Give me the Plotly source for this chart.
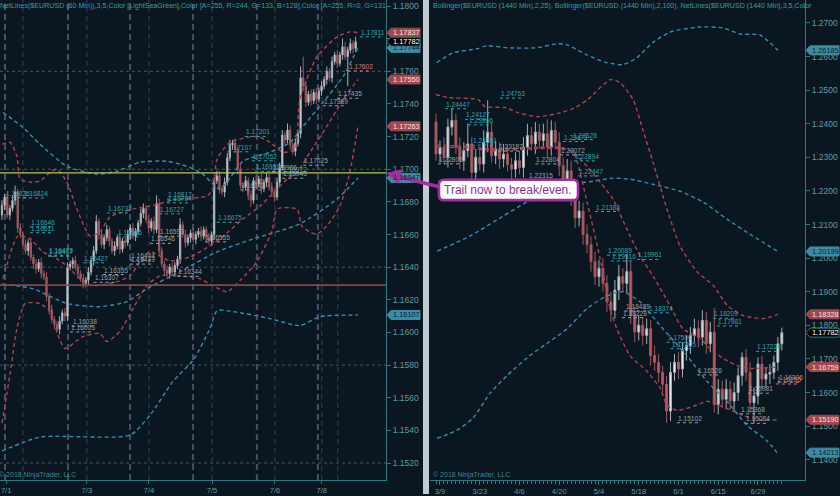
import plotly.graph_objects as go

# ================= DATA =================
# ---- Left panel: $EURUSD (60 Min) bars, index 0..135 ----
h_first_open = 1.1672
h_close = [
    1.1678, 1.1683, 1.1672, 1.1676, 1.1681, 1.1686, 1.1664, 1.1660, 1.1654, 1.1650,
    1.1655, 1.1646, 1.1642, 1.1639, 1.1643, 1.1636, 1.1634, 1.1622, 1.1614, 1.1608,
    1.1605, 1.1602, 1.1607, 1.1612, 1.1610, 1.1640, 1.1642, 1.1644, 1.1640, 1.1636,
    1.1633, 1.1630, 1.1632, 1.1637, 1.1644, 1.1650, 1.1668, 1.1660, 1.1654, 1.1658,
    1.1663, 1.1656, 1.1650, 1.1653, 1.1658, 1.1651, 1.1656, 1.1655, 1.1660, 1.1664,
    1.1659, 1.1662, 1.1667, 1.1673, 1.1676, 1.1669, 1.1664, 1.1668, 1.1663, 1.1679,
    1.1650, 1.1642, 1.1638, 1.1636, 1.1640, 1.1637, 1.1641, 1.1645, 1.1666, 1.1660,
    1.1655, 1.1658, 1.1661, 1.1657, 1.1660, 1.1662, 1.1659, 1.1663, 1.1658, 1.1656,
    1.1660, 1.1693, 1.1696, 1.1688, 1.1686, 1.1692, 1.1707, 1.1715, 1.1716, 1.1712,
    1.1700, 1.1690, 1.1689, 1.1693, 1.1684, 1.1681, 1.1693, 1.1691, 1.1694, 1.1688,
    1.1692, 1.1695, 1.1689, 1.1686, 1.1683, 1.1692, 1.1701, 1.1721, 1.1718, 1.1724,
    1.1715, 1.1711, 1.1716, 1.1722, 1.1756, 1.1751, 1.1741, 1.1746, 1.1742, 1.1747,
    1.1743, 1.1748, 1.1751, 1.1755, 1.1760, 1.1756, 1.1766, 1.1770, 1.1765, 1.1770,
    1.1775, 1.1769, 1.1773, 1.1777, 1.1774, 1.17782]
# wick lengths in 0.0001
h_wick_up = [
    3, 2, 3, 2, 3, 4, 2, 3, 2, 3, 2, 3, 2, 3, 2, 3, 2, 3, 2, 3,
    2, 2, 3, 2, 3, 3, 2, 2, 3, 2, 2, 3, 2, 3, 2, 3, 4, 2, 3, 2,
    3, 2, 2, 3, 2, 3, 2, 2, 3, 2, 3, 2, 2, 3, 3, 2, 3, 2, 3, 5,
    3, 2, 2, 3, 2, 3, 2, 2, 4, 2, 3, 2, 2, 3, 2, 2, 3, 2, 2, 3,
    2, 2, 3, 3, 2, 3, 3, 3, 2, 3, 2, 3, 2, 3, 2, 3, 2, 3, 2, 3,
    2, 3, 2, 3, 2, 3, 3, 3, 2, 4, 3, 2, 3, 2, 7, 13, 3, 2, 3, 2,
    3, 2, 3, 2, 3, 2, 3, 2, 3, 2, 5, 3, 2, 3, 2, 3]
h_wick_dn = [
    3, 3, 2, 3, 2, 3, 3, 2, 3, 2, 3, 2, 3, 3, 2, 3, 2, 3, 3, 2,
    3, 2, 3, 2, 3, 3, 2, 3, 2, 3, 2, 3, 2, 3, 2, 3, 2, 3, 2, 3,
    2, 3, 2, 3, 2, 3, 2, 3, 2, 3, 2, 3, 2, 2, 3, 2, 3, 2, 3, 2,
    3, 2, 3, 2, 3, 2, 3, 2, 3, 2, 3, 2, 3, 2, 3, 2, 3, 2, 3, 2,
    3, 3, 2, 3, 2, 3, 2, 2, 3, 2, 3, 2, 3, 2, 3, 4, 2, 3, 2, 3,
    2, 3, 2, 3, 3, 2, 3, 2, 3, 2, 3, 2, 3, 2, 3, 2, 3, 2, 3, 2,
    3, 2, 3, 2, 3, 2, 3, 2, 3, 2, 3, 2, 18, 2, 3, 2]
h_date_ticks = [1.6, 32.4, 56.1, 80.2, 104.2, 122.1]
h_date_text = ['7/1', '7/3', '7/4', '7/5', '7/6', '7/8']
h_session_major = [1.15, 25.2, 48.9, 72.9, 97.3, 120.6]
h_session_minor = [8, 32.4, 56.1, 80.2, 104.2, 122.1, 128.2]
h_grid_prices = [1.1760, 1.1700, 1.1640, 1.1580, 1.1520]
h_trail_level = 1.16978
h_stop_level = 1.1629

# indicator lines (bar index, price)
h_red_up_x = [0, 3.1, 5.7, 6.9, 10.7, 14.5, 18.3, 21, 24.8, 28.6, 33.6, 37.4, 41.2, 50, 56.5,
              66.8, 78.2, 80.5, 82.1, 87, 97.3, 102.3, 107.3, 111.8, 113.7, 120.2, 127.9, 132.8, 135.9]
h_red_up_y = [1.17153, 1.17165, 1.17079, 1.16939, 1.16921, 1.16927, 1.16982, 1.17000, 1.16921,
              1.16756, 1.16591, 1.16616, 1.16707, 1.16756, 1.16774, 1.16817, 1.16835, 1.16878,
              1.17061, 1.17165, 1.17201, 1.17165, 1.17104, 1.17122, 1.17427, 1.17689, 1.17811,
              1.17842, 1.17837]
h_red_lo_x = [0.4, 6.1, 10.7, 15.6, 21, 24.8, 30.9, 34.7, 43.9, 48.9, 52.7, 56.5, 64.1, 71.8,
              77.5, 83.2, 92, 98.5, 102.3, 108.8, 112.6, 117.6, 124, 130.2, 135.9]
h_red_lo_y = [1.16329, 1.16591, 1.16573, 1.16494, 1.16451, 1.16408, 1.16311, 1.16286, 1.16311,
              1.16347, 1.16433, 1.16494, 1.16439, 1.16463, 1.16512, 1.16573, 1.16695, 1.16774,
              1.16835, 1.16939, 1.16982, 1.17104, 1.17262, 1.17427, 1.17550]
h_red_3_x = [0, 3.1, 5.7, 8.8, 14.5, 18.3, 21.4, 24, 30.9, 37.4, 40.1, 45, 50, 55.3, 60.3, 67.9,
             75.6, 80.5, 85.9, 90.8, 97.3, 103.1, 105, 112.6, 114.5, 117.6, 120.2, 124, 129,
             132.8, 135.9]
h_red_3_y = [1.15444, 1.15749, 1.16024, 1.16177, 1.16177, 1.16128, 1.15981, 1.15902, 1.15975,
             1.15994, 1.15945, 1.16006, 1.16146, 1.16286, 1.16347, 1.16347, 1.16329, 1.16286,
             1.16250, 1.16317, 1.16433, 1.16622, 1.16756, 1.16756, 1.16652, 1.16616, 1.16603,
             1.16652, 1.16774, 1.16982, 1.17263]
h_blue_up_x = [0.4, 8, 14.5, 24.8, 36.3, 43.9, 52.7, 63, 70.6, 76.7, 83.2, 92, 102.3, 110, 114.9,
               122.5, 130.2, 135.9]
h_blue_up_y = [1.17348, 1.17256, 1.17153, 1.17018, 1.16970, 1.16988, 1.17043, 1.17049, 1.17018,
               1.16970, 1.16878, 1.17049, 1.17104, 1.17165, 1.17262, 1.17409, 1.17567, 1.17744]
h_blue_mid_x = [0, 11.8, 24.8, 37.4, 47.7, 55.3, 67.9, 82.1, 95.8, 113.7, 127.9, 135.9]
h_blue_mid_y = [1.16298, 1.16268, 1.16177, 1.16158, 1.16189, 1.16268, 1.16372, 1.16494, 1.16573,
                1.16665, 1.16817, 1.16947]
h_blue_lo_x = [0, 14.5, 48.9, 56.5, 65.3, 72.9, 79.4, 82.1, 88.2, 102.3, 113.7, 121.4, 135.9]
h_blue_lo_y = [1.15274, 1.15359, 1.15371, 1.15493, 1.15701, 1.15829, 1.16024, 1.16134, 1.16128,
               1.16085, 1.16042, 1.16097, 1.16107]

# NetLines price labels: (text, bar index, kind) ; price = text value
h_labels = [
    ("1.17811", 136.6, 't'), ("1.17602", 132.0, 'r'), ("1.17435", 128.0, 'g'),
    ("1.17389", 122.5, 'g'), ("1.17201", 92.7, 't'), ("1.17107", 86.0, 't'),
    ("1.17052", 95.4, 't'), ("1.16988", 96.6, 't'), ("1.16972", 107.0, 't'),
    ("1.17025", 115.0, 'g'), ("1.16986", 103.0, 'g'), ("1.16945", 107.0, 'g'),
    ("1.16873", 91.0, 'g'), ("1.16817", 63.0, 't'), ("1.16794", 63.0, 't'),
    ("1.16727", 60.0, 't'), ("1.16732", 40.0, 't'), ("1.16675", 82.0, 't'),
    ("1.16585", 44.0, 't'), ("1.16590", 60.0, 'g'), ("1.16546", 56.5, 'g'),
    ("1.16555", 77.5, 'g'), ("1.16444", 48.9, 'g'), ("1.16419", 48.9, 'g'),
    ("1.16427", 31.0, 't'), ("1.16355", 38.5, 'g'), ("1.16344", 67.0, 'g'),
    ("1.16307", 35.0, 'g'), ("1.16038", 26.7, 'g'), ("1.16003", 26.0, 'g'),
    ("1.16646", 10.7, 't'), ("1.16611", 10.7, 't'), ("1.16473", 17.6, 't'),
    ("1.16467", 17.6, 't'), ("1.16826", 1.3, 't'), ("1.16824", 8.0, 't')]
h_flags = [("1.17744", 'b'), ("1.17837", 'r'), ("1.17782", 'k'), ("1.17550", 'r'),
           ("1.17263", 'r'), ("1.16947", 'b'), ("1.16107", 'b')]

# ---- Right panel: $EURUSD (1440 Min) bars, index 0..87 ----
d_first_open = 1.2405
d_close = [
    1.2310, 1.2330, 1.2300, 1.2390, 1.2410, 1.2330, 1.2290, 1.2320, 1.2340, 1.2255,
    1.2300, 1.2280, 1.2345, 1.2375, 1.2305, 1.2325, 1.2295, 1.2310, 1.2278, 1.2265,
    1.2290, 1.2270, 1.2330, 1.2365, 1.2340, 1.2375, 1.2350, 1.2370, 1.2330, 1.2380,
    1.2345, 1.2275, 1.2235, 1.2260, 1.2180, 1.2120, 1.2140, 1.2070, 1.2040, 1.1990,
    1.1945, 1.1970, 1.1925, 1.1870, 1.1845, 1.1905, 1.1945, 1.1925, 1.1960, 1.1830,
    1.1780, 1.1800, 1.1770, 1.1790, 1.1710, 1.1690, 1.1660, 1.1625, 1.1545, 1.1660,
    1.1690, 1.1670, 1.1725, 1.1740, 1.1770, 1.1790, 1.1765, 1.1815, 1.1745, 1.1780,
    1.1565, 1.1610, 1.1580, 1.1610, 1.1575, 1.1600, 1.1650, 1.1705, 1.1660, 1.1570,
    1.1590, 1.1685, 1.1640, 1.1655, 1.1660, 1.1690, 1.1745, 1.17782]
d_wick_up = [
    25, 20, 30, 25, 35, 20, 30, 25, 60, 20, 25, 30, 35, 95, 30, 25, 20, 30, 25, 20,
    25, 30, 30, 35, 25, 30, 25, 30, 43, 30, 25, 30, 25, 35, 30, 25, 30, 25, 30, 25,
    30, 25, 30, 25, 30, 30, 35, 25, 49, 30, 25, 30, 25, 30, 25, 30, 25, 20, 25, 30,
    25, 30, 25, 30, 25, 30, 25, 30, 25, 30, 72, 30, 25, 30, 25, 30, 25, 15, 25, 30,
    25, 20, 25, 20, 25, 20, 20, 15]
d_wick_dn = [
    20, 25, 20, 30, 25, 20, 25, 30, 20, 25, 30, 20, 25, 30, 20, 25, 30, 25, 20, 30,
    25, 20, 30, 25, 20, 30, 25, 20, 30, 25, 20, 30, 25, 30, 25, 30, 25, 30, 25, 30,
    25, 30, 25, 30, 35, 25, 30, 25, 30, 25, 30, 25, 30, 25, 30, 25, 30, 25, 35, 30,
    25, 30, 25, 30, 25, 20, 30, 25, 30, 25, 25, 30, 25, 30, 25, 30, 25, 30, 25, 30,
    62, 25, 30, 25, 30, 20, 25, 20]
d_tick_idx = [1, 11, 21, 31, 41, 51, 61, 71, 81]
d_tick_text = ['3/9', '3/23', '4/6', '4/20', '5/4', '5/18', '6/1', '6/15', '6/29']

d_bb100_up_x = [0.2, 4.3, 10.3, 12.8, 17.9, 25.4, 30.4, 32.9, 37.9, 42.9, 47, 50.5, 54.5, 58.9,
                66.4, 72.2, 76.5, 81.5, 86]
d_bb100_up_y = [1.2582, 1.2611, 1.2623, 1.2632, 1.2626, 1.2626, 1.2638, 1.2635, 1.2605, 1.2582,
                1.2576, 1.2596, 1.2641, 1.2673, 1.2688, 1.2685, 1.2667, 1.2664, 1.26185]
d_bb100_mid_x = [0.3, 8.6, 16.9, 22.9, 29.4, 34.5, 39.5, 44.5, 48.8, 54.6, 61.4, 67.2, 73.2, 79.7, 86]
d_bb100_mid_y = [1.2021, 1.2066, 1.2125, 1.2167, 1.2196, 1.2220, 1.2229, 1.2238, 1.2235, 1.2220,
                 1.2199, 1.2167, 1.2116, 1.2066, 1.20199]
d_bb100_lo_x = [0.3, 5.3, 9.3, 13.6, 17.9, 23.6, 27.9, 33, 38, 43, 47, 51.3, 56.4, 63.1, 68.2,
                73.2, 78.2, 83.3, 85.8]
d_bb100_lo_y = [1.1464, 1.1488, 1.1524, 1.1598, 1.1651, 1.1710, 1.1746, 1.1790, 1.1850, 1.1888,
                1.1900, 1.1870, 1.1799, 1.1710, 1.1633, 1.1574, 1.1503, 1.1456, 1.14213]
d_bb25_up_x = [0, 3, 10.6, 12.3, 17.4, 20.6, 25.7, 31.4, 35, 38.2, 43.8, 46.3, 49.6, 52, 54.6,
               58.1, 61.4, 65.7, 69.8, 73.3, 77.3, 82.3, 86]
d_bb25_up_y = [1.2487, 1.2478, 1.2472, 1.2451, 1.2448, 1.2433, 1.2421, 1.2433, 1.2448, 1.2472,
               1.2531, 1.2522, 1.2472, 1.2383, 1.2285, 1.2146, 1.2036, 1.1959, 1.1918, 1.1859,
               1.1829, 1.1820, 1.18328]
d_bb25_mid_x = [0, 7.3, 14.8, 25.7, 31.4, 34.5, 38, 41.3, 44.5, 48, 51.3, 54.6, 58.9, 62.1, 66.4,
                68.9, 72.2, 75.7, 79, 83.3, 85.8]
d_bb25_mid_y = [1.2336, 1.2333, 1.2324, 1.2330, 1.2330, 1.2315, 1.2273, 1.2226, 1.2176, 1.2087,
                1.2007, 1.1947, 1.1858, 1.1790, 1.1761, 1.1731, 1.1702, 1.1681, 1.1672, 1.1674,
                1.16759]
d_bb25_lo_x = [0, 7.3, 14.8, 25.7, 31.4, 34.5, 38, 41.3, 43.8, 45.5, 48.8, 53.1, 56.4, 58.1,
               60.6, 64.7, 68.2, 69.7, 73.2, 77.2, 81.5, 86]
d_bb25_lo_y = [1.2330, 1.2328, 1.2320, 1.2326, 1.2326, 1.2315, 1.2167, 1.1998, 1.1850, 1.1790,
               1.1710, 1.1663, 1.1613, 1.1562, 1.1547, 1.1559, 1.1574, 1.1568, 1.1553, 1.1532,
               1.1518, 1.15190]

d_labels = [
    ("1.24763", 16.1, 't'), ("1.24447", 2.3, 't'), ("1.24127", 7.3, 't'),
    ("1.23966", 8.0, 't'), ("1.23361", 9.0, 't'), ("1.23471", 31.9, 't'),
    ("1.23528", 34.2, 't'), ("1.22894", 34.7, 't'), ("1.22447", 35.7, 't'),
    ("1.21388", 40.0, 't'), ("1.20089", 43.0, 't'), ("1.19961", 50.6, 't'),
    ("1.19916", 44.0, 't'), ("1.18429", 47.5, 'g'), ("1.18374", 53.3, 't'),
    ("1.18228", 46.8, 'g'), ("1.17500", 58.0, 't'), ("1.17305", 59.0, 't'),
    ("1.16526", 65.7, 'g'), ("1.18209", 69.7, 't'), ("1.17981", 70.7, 't'),
    ("1.17226", 80.5, 't'), ("1.15981", 78.5, 'g'), ("1.15368", 76.5, 'g'),
    ("1.15084", 77.7, 'g'), ("1.15102", 60.6, 'g'), ("1.16306", 86.0, 'r'),
    ("1.16255", 85.5, 'r'), ("1.22806", 0.5, 'g'), ("1.22804", 25.0, 'g'),
    ("1.23072", 31.2, 'g'), ("1.23187", 15.6, 'g'), ("1.22315", 23.1, 'g')]
d_flags = [("1.26185", 'b'), ("1.20199", 'b'), ("1.18328", 'r'), ("1.17782", 'k'),
           ("1.16759", 'r'), ("1.15190", 'r'), ("1.14213", 'b')]

left_legend = ("NetLines($EURUSD (60 Min)),3,5,Color [LightSeaGreen],Color [A=255, R=244, "
               "G=133, B=128],Color [A=255, R=0, G=131")
right_legend = ("Bollinger($EURUSD (1440 Min),2,25), Bollinger($EURUSD (1440 Min),2,100), "
                "NetLines($EURUSD (1440 Min),3,5,Color")
copyright_text = "© 2018 NinjaTrader, LLC"
callout_text = "Trail now to break/even."

# ================= STYLE / GEOMETRY =================
BG = '#0a1620'
AX = '#2b7c80'
TK = '#5b9ea4'
RED = '#b0444d'
BLUE = '#3a8db0'
LBL = {'t': '#2fa6ad', 'g': '#9aa2aa', 'r': '#d9817c'}
FLAG = {'r': ('#a3474f', '#f3e2e2', '#a3474f'),
        'b': ('#3d8ca6', '#08202a', '#3d8ca6'),
        'k': ('#000000', '#ffffff', '#2b7c80')}
PURPLE = '#a0309e'
FONT = 'Liberation Sans, Arial, sans-serif'

W, H, MB = 840, 496, 14
PH = H - MB
L_DOM = [0, 386 / W]
R_DOM = [430 / W, 805 / W]
L_XR = [-0.76, 146.6]
R_XR = [-1.51, 92.83]
L_YR = [1.15096, 1.18037]
R_YR = [1.13398, 1.27682]


def px(x):
    return x / W


def py(y):
    return (PH - y) / PH


def ohlc(first_open, closes, wu, wd):
    opens = [first_open] + closes[:-1]
    highs = [max(o, c) + u * 1e-4 for o, c, u in zip(opens, closes, wu)]
    lows = [min(o, c) - d * 1e-4 for o, c, d in zip(opens, closes, wd)]
    return opens, highs, lows


fig = go.Figure()

for (fo, cl, wu, wd, xa, ya) in [(h_first_open, h_close, h_wick_up, h_wick_dn, 'x', 'y'),
                                 (d_first_open, d_close, d_wick_up, d_wick_dn, 'x2', 'y2')]:
    o, hi, lo = ohlc(fo, cl, wu, wd)
    fig.add_trace(go.Candlestick(
        x=list(range(len(cl))), open=o, high=hi, low=lo, close=cl, xaxis=xa, yaxis=ya,
        increasing=dict(line=dict(color='#a7afb5', width=1), fillcolor='#e4e9ec'),
        decreasing=dict(line=dict(color='#9a5a62', width=1), fillcolor='#c9525c'),
        whiskerwidth=0, showlegend=False, hoverinfo='skip'))

lines = [
    (h_blue_lo_x, h_blue_lo_y, BLUE, 'x', 'y'),
    (h_blue_mid_x, h_blue_mid_y, BLUE, 'x', 'y'),
    (h_blue_up_x, h_blue_up_y, BLUE, 'x', 'y'),
    (h_red_3_x, h_red_3_y, RED, 'x', 'y'),
    (h_red_lo_x, h_red_lo_y, RED, 'x', 'y'),
    (h_red_up_x, h_red_up_y, RED, 'x', 'y'),
    (d_bb100_up_x, d_bb100_up_y, BLUE, 'x2', 'y2'),
    (d_bb100_mid_x, d_bb100_mid_y, BLUE, 'x2', 'y2'),
    (d_bb100_lo_x, d_bb100_lo_y, BLUE, 'x2', 'y2'),
    (d_bb25_up_x, d_bb25_up_y, RED, 'x2', 'y2'),
    (d_bb25_mid_x, d_bb25_mid_y, RED, 'x2', 'y2'),
    (d_bb25_lo_x, d_bb25_lo_y, RED, 'x2', 'y2'),
]
for xs, ys, col, xa, ya in lines:
    fig.add_trace(go.Scatter(x=xs, y=ys, mode='lines', xaxis=xa, yaxis=ya,
                             line=dict(color=col, width=1.4, dash='4px,3px', shape='spline',
                                       smoothing=0.6),
                             showlegend=False, hoverinfo='skip'))

shapes = []
annotations = []

# left panel grid / session lines
for p in h_grid_prices:
    shapes.append(dict(type='line', xref='x domain', yref='y', x0=0, x1=1, y0=p, y1=p,
                       line=dict(color='#4f5668', width=1, dash='dot'), layer='below'))
for s in h_session_major:
    shapes.append(dict(type='line', xref='x', yref='y domain', x0=s, x1=s, y0=0, y1=1,
                       line=dict(color='#4a4f68', width=2, dash='6px,4px'), layer='below'))
for s in h_session_minor:
    shapes.append(dict(type='line', xref='x', yref='y domain', x0=s, x1=s, y0=0, y1=1,
                       line=dict(color='#3a4256', width=1, dash='5px,4px'), layer='below'))
shapes.append(dict(type='line', xref='x domain', yref='y', x0=0, x1=1, y0=h_trail_level,
                   y1=h_trail_level, line=dict(color='#b9c64e', width=1.2)))
shapes.append(dict(type='line', xref='x domain', yref='y', x0=0, x1=1, y0=h_stop_level,
                   y1=h_stop_level, line=dict(color='#8f4545', width=1.6)))

# NetLines labels
for labels, xa, ya, ulen in [(h_labels, 'x', 'y', 8.4), (d_labels, 'x2', 'y2', 5.5)]:
    for txt, xi, kind in labels:
        p = float(txt)
        col = LBL[kind]
        shapes.append(dict(type='line', xref=xa, yref=ya, x0=xi, x1=xi + ulen, y0=p, y1=p,
                           line=dict(color=col, width=1, dash='dot')))
        annotations.append(dict(x=xi, y=p, xref=xa, yref=ya, text=txt, showarrow=False,
                                xanchor='left', yanchor='bottom', borderpad=0,
                                font=dict(family=FONT, size=6.6, color=col)))

# price flags on axes
for flags, ya, tip, yr in [(h_flags, 'y', 387, L_YR), (d_flags, 'y2', 806, R_YR)]:
    hd = 9.0 * (yr[1] - yr[0]) / PH
    for txt, kind in flags:
        p = float(txt)
        bg, fg, bd = FLAG[kind]
        x0, x1, x2 = px(tip), px(tip + 4), px(tip + 33)
        path = (f"M {x0},{p} L {x1},{p + hd / 2} L {x2},{p + hd / 2} "
                f"L {x2},{p - hd / 2} L {x1},{p - hd / 2} Z")
        shapes.append(dict(type='path', path=path, xref='paper', yref=ya, fillcolor=bg,
                           line=dict(color=bd, width=1), layer='above'))
        annotations.append(dict(x=px(tip + 19), y=p, xref='paper', yref=ya, text=txt,
                                showarrow=False, xanchor='center', yanchor='middle',
                                font=dict(family=FONT, size=7.4, color=fg)))

# separator between panels
shapes.append(dict(type='rect', xref='paper', yref='paper', x0=px(423), x1=px(429),
                   y0=py(H), y1=py(0), fillcolor='#c3cbd2', line=dict(width=0)))


# callout box + arrow
def rrect(x0, y0, x1, y1, r):
    pts = [("M", x0 + r, y0), ("L", x1 - r, y0), ("Q", x1, y0, x1, y0 + r), ("L", x1, y1 - r),
           ("Q", x1, y1, x1 - r, y1), ("L", x0 + r, y1), ("Q", x0, y1, x0, y1 - r),
           ("L", x0, y0 + r), ("Q", x0, y0, x0 + r, y0)]
    out = []
    for seg in pts:
        cmd = seg[0]
        coords = seg[1:]
        s = " ".join(f"{px(coords[k])},{py(coords[k + 1])}" for k in range(0, len(coords), 2))
        out.append(f"{cmd} {s}")
    return " ".join(out) + " Z"


shapes.append(dict(type='line', xref='paper', yref='paper', x0=px(441), y0=py(188),
                   x1=px(399), y1=py(177.5), line=dict(color=PURPLE, width=3.5)))
shapes.append(dict(type='path', xref='paper', yref='paper',
                   path=f"M {px(387)},{py(174)} L {px(401.5)},{py(170.5)} L {px(398.5)},{py(184)} Z",
                   fillcolor=PURPLE, line=dict(color=PURPLE, width=1)))
shapes.append(dict(type='path', xref='paper', yref='paper', path=rrect(439, 180.5, 578, 201, 5),
                   fillcolor='#ffffff', line=dict(color=PURPLE, width=2.6)))
annotations.append(dict(x=px(508.5), y=py(190.8), xref='paper', yref='paper', text=callout_text,
                        showarrow=False, xanchor='center', yanchor='middle',
                        font=dict(family=FONT, size=12, color='#86339a')))

# legend texts and copyright
annotations.append(dict(x=px(-2), y=py(6), xref='paper', yref='paper', text=left_legend,
                        showarrow=False, xanchor='left', yanchor='middle',
                        font=dict(family=FONT, size=7.1, color='#3a9ea5')))
annotations.append(dict(x=px(431), y=py(6), xref='paper', yref='paper', text=right_legend,
                        showarrow=False, xanchor='left', yanchor='middle',
                        font=dict(family=FONT, size=7.1, color='#3a9ea5')))
for xx in (-3, 431):
    annotations.append(dict(x=px(xx), y=py(476.5), xref='paper', yref='paper',
                            text=copyright_text, showarrow=False, xanchor='left',
                            yanchor='middle', font=dict(family=FONT, size=7, color='#3a8a90')))

axis_common = dict(showgrid=False, zeroline=False, showline=True, linecolor=AX, linewidth=1,
                   ticks='outside', tickcolor=AX, fixedrange=True)

fig.update_layout(
    width=W, height=H, margin=dict(l=0, r=0, t=0, b=MB),
    paper_bgcolor=BG, plot_bgcolor=BG, showlegend=False,
    xaxis=dict(domain=L_DOM, range=L_XR, anchor='y', tickmode='array', tickvals=h_date_ticks,
               ticktext=h_date_text, ticklen=3, rangeslider=dict(visible=False),
               ticklabeloverflow='allow',
               tickfont=dict(family=FONT, size=7.6, color=TK), **axis_common),
    yaxis=dict(domain=[0, 1], range=L_YR, anchor='x', side='right', tick0=1.152, dtick=0.002,
               tickformat='.4f', ticklen=4, automargin=False,
               tickfont=dict(family=FONT, size=8.5, color=TK), **axis_common),
    xaxis2=dict(domain=R_DOM, range=R_XR, anchor='y2', tickmode='array', tickvals=d_tick_idx,
                ticktext=d_tick_text, ticklen=4, rangeslider=dict(visible=False),
                minor=dict(tickmode='array', tickvals=list(range(len(d_close))), ticks='outside',
                           ticklen=3, tickcolor=AX),
                tickfont=dict(family=FONT, size=7.6, color=TK), **axis_common),
    yaxis2=dict(domain=[0, 1], range=R_YR, anchor='x2', side='right', tick0=1.14, dtick=0.01,
                tickformat='.4f', ticklen=4, automargin=False,
                tickfont=dict(family=FONT, size=8.5, color=TK), **axis_common),
    shapes=shapes, annotations=annotations,
)

page_fix = ("document.documentElement.style.margin='0';document.body.style.margin='0';"
            "document.body.style.padding='0';document.body.style.background='" + BG + "';"
            "document.body.style.overflow='hidden';")
fig.write_html("out.html", post_script=page_fix,
               config={'displayModeBar': False, 'staticPlot': True})
